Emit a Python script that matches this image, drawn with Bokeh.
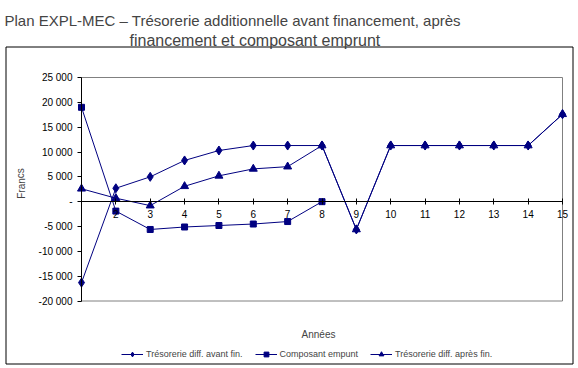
from bokeh.plotting import figure
from bokeh.models import (LinearAxis, FixedTicker, Range1d, Label, Legend, LegendItem,
                          BoxAnnotation)
from bokeh.embed import file_html
from bokeh.resources import INLINE

# ---- data ----
years = list(range(1, 16))
avant_fin = [-16300, 2700, 5000, 8300, 10300, 11300, 11300, 11300, -5600,
             11300, 11300, 11300, 11300, 11300, 17600]
emprunt_years = list(range(1, 9))
composant_emprunt = [19000, -1900, -5600, -5100, -4800, -4500, -4000, 0]
apres_fin = [2600, 700, -800, 3100, 5200, 6600, 7050, 11300, -5600,
             11300, 11300, 11300, 11300, 11300, 17600]

y_ticks = [25000, 20000, 15000, 10000, 5000, 0, -5000, -10000, -15000, -20000]
y_tick_labels = ["25 000", "20 000", "15 000", "10 000", "5 000", "-",
                 "-5 000", "-10 000", "-15 000", "-20 000"]
x_tick_labels = [""] + [str(y) for y in years[1:]]
y_min, y_max = -20000, 25000

title_line1 = "Plan EXPL-MEC \u2013 Trésorerie additionnelle avant financement, après"
title_line2 = "financement et composant emprunt"
series_names = ["Trésorerie diff. avant fin.", "Composant empunt", "Trésorerie diff. après fin."]
y_label = "Francs"
x_label = "Années"

NAVY = "#000080"
FONT = "Liberation Sans"

# ---- layout (page pixels) ----
CANVAS_X0, CANVAS_Y0, W, H = 0, 0, 578, 368
PX_LEFT, PX_RIGHT = 81.0, 562.0     # x = 1 .. 15
PY_TOP, PY_BOTTOM = 77.0, 300.5     # y = 25000 .. -20000
KX = (PX_RIGHT - PX_LEFT) / (years[-1] - years[0])
KY = (PY_BOTTOM - PY_TOP) / (y_max - y_min)


def dx(px):
    return years[0] + (px - PX_LEFT) / KX


def dy(py):
    return y_max - (py - PY_TOP) / KY


p = figure(width=W, height=H, output_backend="svg", toolbar_location=None,
           x_range=Range1d(dx(CANVAS_X0), dx(CANVAS_X0 + W)),
           y_range=Range1d(dy(CANVAS_Y0 + H), dy(CANVAS_Y0)),
           x_axis_location=None, y_axis_location=None,
           min_border=0, min_border_left=0, min_border_right=0,
           min_border_top=0, min_border_bottom=0)
p.grid.visible = False
p.outline_line_color = None
p.background_fill_color = "white"
p.border_fill_color = "white"

# plot area outline (gray)
p.add_layout(BoxAnnotation(left=years[0], right=years[-1], bottom=y_min, top=y_max,
                           fill_alpha=0, line_color="#808080", line_width=1,
                           line_alpha=1, level="underlay"))

# outer chart box (black)
p.add_layout(BoxAnnotation(left=dx(5.5), right=dx(572.5), top=dy(46.5), bottom=dy(363.5),
                           fill_alpha=0, line_color="black", line_width=1,
                           line_alpha=1, level="underlay"))

# y axis at x = 1
ya = LinearAxis(fixed_location=years[0], bounds=(y_min, y_max),
                ticker=FixedTicker(ticks=y_ticks),
                major_label_overrides={t: l for t, l in zip(y_ticks, y_tick_labels)})
ya.minor_tick_line_color = None
ya.major_tick_in = 0
ya.major_tick_out = 4
ya.major_label_standoff = 5
ya.major_label_text_font = FONT
ya.major_label_text_font_size = "10px"
ya.major_label_text_color = "black"
ya.axis_line_color = "black"
p.add_layout(ya, "left")

# x axis crossing at zero
xa = LinearAxis(fixed_location=0, bounds=(years[0], years[-1]),
                ticker=FixedTicker(ticks=years),
                major_label_overrides={t: l for t, l in zip(years, x_tick_labels)})
xa.minor_tick_line_color = None
xa.major_tick_in = 3
xa.major_tick_out = 3
xa.major_label_standoff = 5
xa.major_label_text_font = FONT
xa.major_label_text_font_size = "10px"
xa.major_label_text_color = "black"
xa.axis_line_color = "black"
p.add_layout(xa, "below")

# series
l1 = p.line(years, avant_fin, line_color=NAVY, line_width=1)
s1 = p.scatter(years, avant_fin, marker="diamond", size=9, color=NAVY)
l2 = p.line(emprunt_years, composant_emprunt, line_color=NAVY, line_width=1)
s2 = p.scatter(emprunt_years, composant_emprunt, marker="square", size=6, color=NAVY)
l3 = p.line(years, apres_fin, line_color=NAVY, line_width=1)
s3 = p.scatter(years, apres_fin, marker="triangle", size=8, color=NAVY)

legend = Legend(items=[LegendItem(label=series_names[0], renderers=[l1, s1]),
                       LegendItem(label=series_names[1], renderers=[l2, s2]),
                       LegendItem(label=series_names[2], renderers=[l3, s3])],
                orientation="horizontal", location=(121, 8),
                label_text_font=FONT, label_text_font_size="9px",
                glyph_width=22, glyph_height=12, label_height=12,
                label_standoff=3, spacing=12,
                padding=2, margin=0, border_line_color=None,
                background_fill_alpha=0)
p.add_layout(legend, "center")

# texts
p.add_layout(Label(x=dx(4), y=dy(19.5), text=title_line1,
                   text_font=FONT, text_font_size="15px", text_baseline="alphabetic"))
p.add_layout(Label(x=dx(129), y=dy(39.5), text=title_line2,
                   text_font=FONT, text_font_size="16px", text_baseline="alphabetic"))
p.add_layout(Label(x=dx(20.5), y=dy(183), text=y_label,
                   angle=1.5708, text_font=FONT, text_font_size="10px",
                   text_align="center", text_baseline="middle"))
p.add_layout(Label(x=dx(318), y=dy(334), text=x_label,
                   text_font=FONT, text_font_size="10px",
                   text_align="center", text_baseline="middle"))

open("out.html", "w").write(file_html(p, INLINE))
